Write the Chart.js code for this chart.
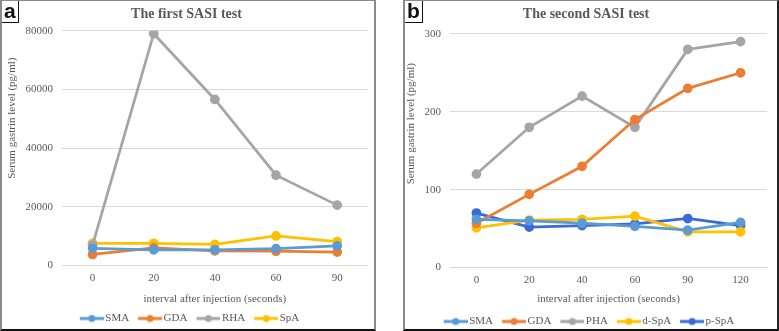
<!DOCTYPE html>
<html>
<head>
<meta charset="utf-8">
<script src="https://cdn.jsdelivr.net/npm/chart.js@4/dist/chart.umd.min.js"></script>
<style>
  html, body { margin: 0; padding: 0; background: #fff; }
  body { width: 779px; height: 331px; position: relative; overflow: hidden; }
  .panel { position: absolute; top: 0; height: 328px; background: #fff;
           border-left: 2px solid #8a8a8a; border-right: 2px solid #8a8a8a;
           border-top: 1px solid #8a8a8a; border-bottom: 2px solid #111; overflow: hidden; }
  #pa { left: 0; width: 372px; }
  #pb { left: 403px; width: 372px; border-right-color: #222; }
  .box { position: absolute; top: 0; left: 0; height: 21px; padding: 0 2px;
         border-right: 1.5px solid #111; border-bottom: 1.5px solid #111;
         font: bold 21px "Liberation Sans", Arial, sans-serif; line-height: 20px; color: #111; background: #fff; z-index: 2; }
  canvas { position: absolute; top: 0; left: 0; }
</style>
</head>
<body>
<div class="panel" id="pa"><div class="box">a</div><canvas id="chartA" width="372" height="328"></canvas></div>
<div class="panel" id="pb"><div class="box">b</div><canvas id="chartB" width="372" height="328"></canvas></div>
<script>
// panel a: first SASI test
const timesA = ['0', '20', '40', '60', '90'];
const smaA = [5900, 5400, 5400, 5800, 6700];
const gdaA = [3800, 6000, 5000, 4900, 4600];
const rhaA = [7000, 79000, 56600, 30800, 20600];
const spaA = [7600, 7600, 7200, 10100, 8200];

// panel b: second SASI test
const timesB = ['0', '20', '40', '60', '90', '120'];
const smaB = [62, 60, 57, 53, 48, 58];
const gdaB = [57, 94, 130, 190, 230, 250];
const phaB = [120, 180, 220, 180, 280, 290];
const dspaB = [51, 61, 62, 66, 46, 46];
const pspaB = [70, 52, 54, 56, 63, 54];

const colSMA = '#5B9BD5';
const colGDA = '#ED7D31';
const colGrey = '#A5A5A5';
const colYel = '#FFC000';
const colBlue = '#3A6AD8';
const textCol = '#595959';
const serif = '"Liberation Serif", "Times New Roman", serif';

// line + dot legend marker, drawn right of centre so the text sits close
function legendIcon(color) {
    const c = document.createElement('canvas');
    c.width = 34; c.height = 10;
    const g = c.getContext('2d');
    g.strokeStyle = color; g.lineWidth = 3;
    g.beginPath(); g.moveTo(10, 5); g.lineTo(34, 5); g.stroke();
    g.fillStyle = color;
    g.beginPath(); g.arc(22, 5, 3.5, 0, Math.PI * 2); g.fill();
    return c;
}

// rotated y title, placed a bit above the plot centre like the original
const yTitlePlugin = {
    id: 'ytitle',
    afterDraw(chart, args, opts) {
        const ctx = chart.ctx;
        const a = chart.chartArea;
        ctx.save();
        ctx.translate(opts.x, (a.top + a.bottom) / 2 - opts.lift);
        ctx.rotate(-Math.PI / 2);
        ctx.fillStyle = textCol;
        ctx.font = '11px ' + serif;
        ctx.textAlign = 'center';
        ctx.textBaseline = 'middle';
        ctx.fillText(opts.text, 0, 0);
        ctx.restore();
    }
};

function series(label, data, color) {
    return {
        label: label,
        data: data,
        borderColor: color,
        backgroundColor: color,
        borderWidth: 2.75,
        pointRadius: 3.5,
        pointHoverRadius: 3.5,
        tension: 0
    };
}

function makeChart(id, title, labels, datasets, yMax, yStep, lay) {
    new Chart(document.getElementById(id), {
        type: 'line',
        data: { labels: labels, datasets: datasets },
        plugins: [yTitlePlugin],
        options: {
            responsive: false,
            animation: false,
            layout: { padding: { left: 0, right: lay.right, top: 0, bottom: lay.bottom } },
            plugins: {
                title: {
                    display: true,
                    text: title,
                    color: textCol,
                    font: { family: serif, size: 14, weight: 'bold' },
                    padding: { top: 5, bottom: lay.titleGap }
                },
                legend: {
                    position: 'bottom',
                    labels: {
                        color: textCol,
                        font: { family: serif, size: 11 },
                        usePointStyle: true,
                        pointStyleWidth: 26,
                        boxHeight: 10,
                        padding: 3,
                        generateLabels: function (chart) {
                            const items = Chart.defaults.plugins.legend.labels.generateLabels(chart);
                            items.forEach(function (it) {
                                it.pointStyle = legendIcon(chart.data.datasets[it.datasetIndex].borderColor);
                            });
                            return items;
                        }
                    }
                },
                tooltip: { enabled: false },
                ytitle: { text: 'Serum gastrin level (pg/ml)', x: lay.titleX, lift: lay.lift }
            },
            scales: {
                x: {
                    offset: true,
                    grid: { display: false, drawTicks: false },
                    border: { color: '#d9d9d9' },
                    ticks: { color: textCol, font: { family: serif, size: 11 }, padding: 6 },
                    title: {
                        display: true,
                        text: 'interval after injection (seconds)',
                        color: textCol,
                        font: { family: serif, size: 11 },
                        padding: { top: lay.xtTop, bottom: lay.xtBottom }
                    }
                },
                y: {
                    min: 0,
                    max: yMax,
                    afterFit: function (s) { s.width = lay.axisW; },
                    ticks: {
                        stepSize: yStep,
                        color: textCol,
                        font: { family: serif, size: 11 },
                        padding: 9,
                        callback: function (v) { return String(v); }
                    },
                    grid: { color: '#d9d9d9', drawTicks: false },
                    border: { display: false }
                }
            }
        }
    });
}

makeChart('chartA', 'The first SASI test', timesA, [
    series('SMA', smaA, colSMA),
    series('GDA', gdaA, colGDA),
    series('RHA', rhaA, colGrey),
    series('SpA', spaA, colYel)
], 80000, 20000,
    { axisW: 60, right: 3, bottom: -5, titleGap: 8, xtTop: 2, xtBottom: 4, titleX: 10, lift: 30 });

makeChart('chartB', 'The second SASI test', timesB, [
    series('SMA', smaB, colSMA),
    series('GDA', gdaB, colGDA),
    series('PHA', phaB, colGrey),
    series('d-SpA', dspaB, colYel),
    series('p-SpA', pspaB, colBlue)
], 300, 100,
    { axisW: 45, right: 10, bottom: -8, titleGap: 11, xtTop: 0, xtBottom: 7, titleX: 6, lift: 27 });
</script>
</body>
</html>
